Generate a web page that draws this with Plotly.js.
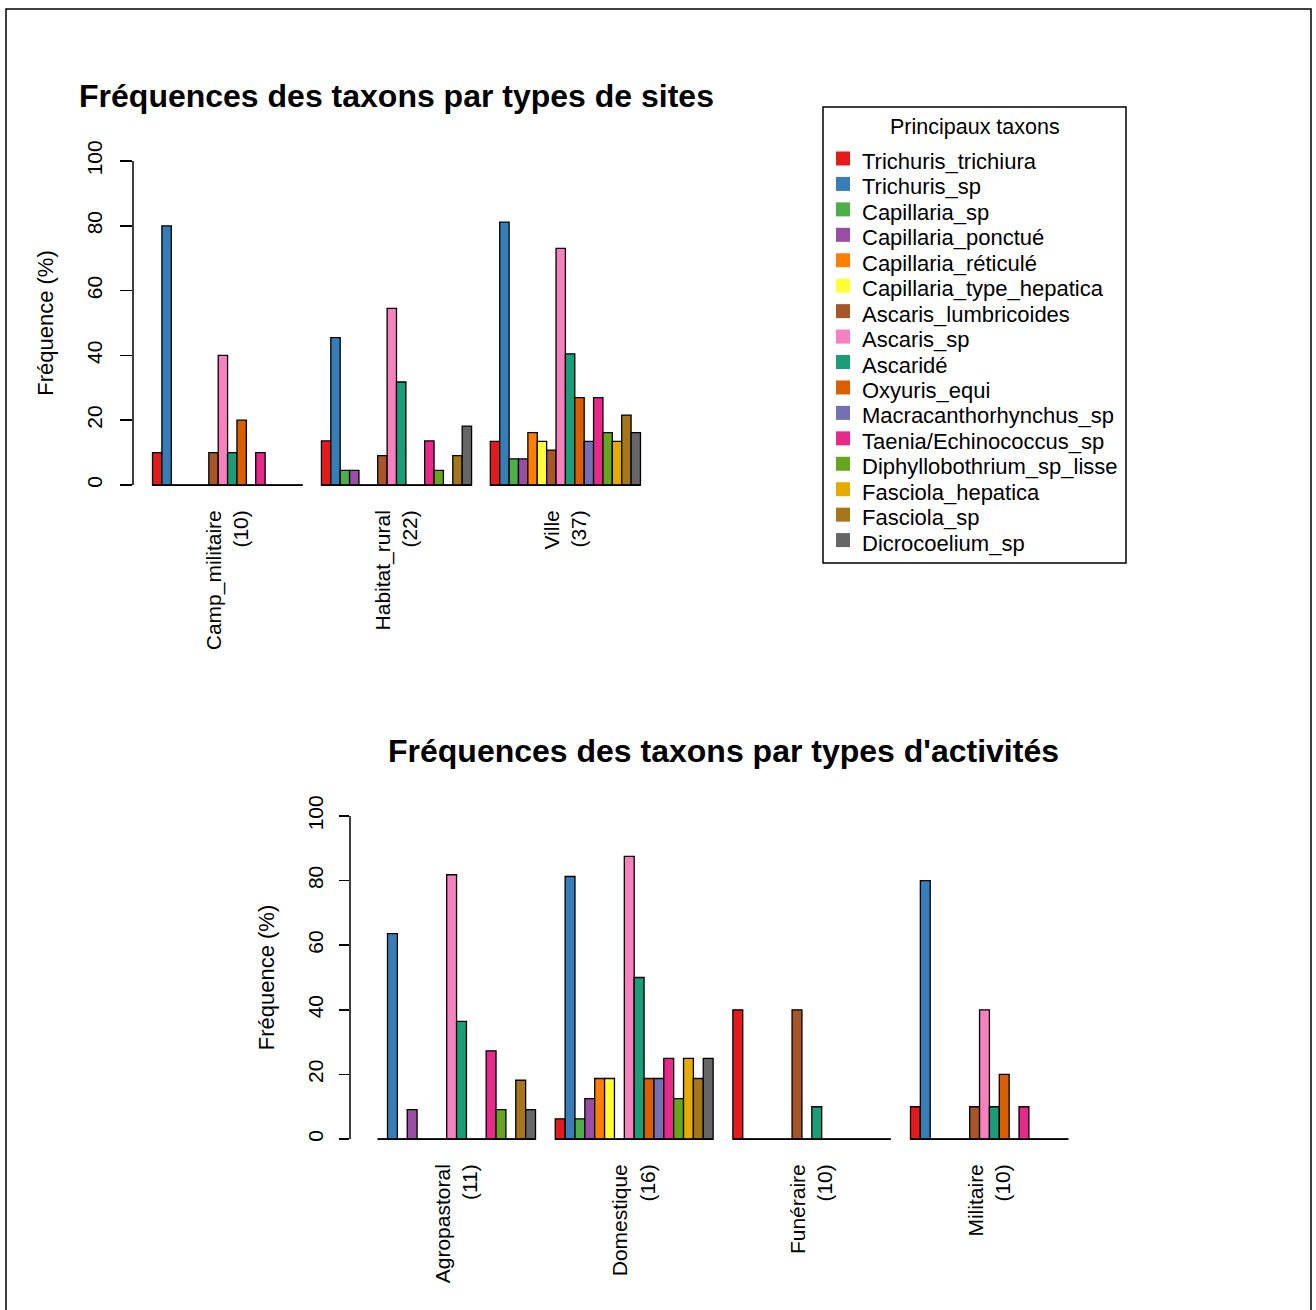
<!DOCTYPE html>
<html>
<head>
<meta charset="utf-8">
<script src="https://cdn.plot.ly/plotly-3.0.1.min.js"></script>
<style>
html, body { margin: 0; padding: 0; background: #ffffff; }
#chart { width: 1316px; height: 1310px; }
</style>
</head>
<body>
<div id="chart"></div>
<script>
// ---------- DATA ----------
const taxa = [
  'Trichuris_trichiura', 'Trichuris_sp', 'Capillaria_sp', 'Capillaria_ponctué',
  'Capillaria_réticulé', 'Capillaria_type_hepatica', 'Ascaris_lumbricoides', 'Ascaris_sp',
  'Ascaridé', 'Oxyuris_equi', 'Macracanthorhynchus_sp', 'Taenia/Echinococcus_sp',
  'Diphyllobothrium_sp_lisse', 'Fasciola_hepatica', 'Fasciola_sp', 'Dicrocoelium_sp'
];
const taxaColors = [
  '#E41A1C', '#377EB8', '#4DAF4A', '#984EA3', '#FF7F00', '#FFFF33', '#A65628', '#F781BF',
  '#1B9E77', '#D95F02', '#7570B3', '#E7298A', '#66A61E', '#E6AB02', '#A6761D', '#666666'
];

// Chart 1 : types de sites
const siteNames = ['Camp_militaire', 'Habitat_rural', 'Ville'];
const siteCounts = [10, 22, 37];
const campMilitaire = [10, 80, 0, 0, 0, 0, 10, 40, 10, 20, 0, 10, 0, 0, 0, 0];
const habitatRural  = [13.6, 45.5, 4.5, 4.5, 0, 0, 9.1, 54.5, 31.8, 0, 0, 13.6, 4.5, 0, 9.1, 18.2];
const ville         = [13.5, 81.1, 8.1, 8.1, 16.2, 13.5, 10.8, 73.0, 40.5, 27.0, 13.5, 27.0, 16.2, 13.5, 21.6, 16.2];

// Chart 2 : types d'activités
const activityNames = ['Agropastoral', 'Domestique', 'Funéraire', 'Militaire'];
const activityCounts = [11, 16, 10, 10];
const agropastoral = [0, 63.6, 0, 9.1, 0, 0, 0, 81.8, 36.4, 0, 0, 27.3, 9.1, 0, 18.2, 9.1];
const domestique   = [6.25, 81.25, 6.25, 12.5, 18.75, 18.75, 0, 87.5, 50, 18.75, 18.75, 25, 12.5, 25, 18.75, 25];
const funeraire    = [40, 0, 0, 0, 0, 0, 40, 0, 10, 0, 0, 0, 0, 0, 0, 0];
const militaire    = [10, 80, 0, 0, 0, 0, 10, 40, 10, 20, 0, 10, 0, 0, 0, 0];

const yTicks = [0, 20, 40, 60, 80, 100];
const title1 = 'Fréquences des taxons par types de sites';
const title2 = "Fréquences des taxons par types d'activités";
const yTitle = 'Fréquence (%)';
const legendTitle = 'Principaux taxons';

// ---------- BUILD ----------
const W = 1316, H = 1310;
const FONT = 'Liberation Sans, Arial, Helvetica, sans-serif';
const px = v => v / W;
const py = v => 1 - v / H;

const siteLabels = siteNames.map((n, i) => n + '<br>(' + siteCounts[i] + ')');
const actLabels = activityNames.map((n, i) => n + '<br>(' + activityCounts[i] + ')');
const siteSeries = [campMilitaire, habitatRural, ville];
const actSeries = [agropastoral, domestique, funeraire, militaire];

const nT = taxa.length;            // 16 bars per group
const space = 2;                   // gap between groups, in bar widths
const unit = nT + space;           // bar widths per category
const bargap = space / unit;

function xRange(nG) {
  // R barplot style: bars from 'space' to unit*nG, axis extended 4%
  const lo = space, hi = unit * nG, ext = 0.04 * (hi - lo);
  const c = space + nT / 2;
  return [(lo - ext - c) / unit, (hi + ext - c) / unit];
}

const traces = [];
taxa.forEach((t, i) => {
  traces.push({
    type: 'bar', name: t, x: siteLabels, y: siteSeries.map(s => s[i]),
    xaxis: 'x', yaxis: 'y', showlegend: false,
    marker: { color: taxaColors[i], line: { color: '#000', width: 1.3 } },
    hoverinfo: 'x+y+name'
  });
});
taxa.forEach((t, i) => {
  traces.push({
    type: 'bar', name: t, x: actLabels, y: actSeries.map(s => s[i]),
    xaxis: 'x2', yaxis: 'y2', showlegend: false,
    marker: { color: taxaColors[i], line: { color: '#000', width: 1.3 } },
    hoverinfo: 'x+y+name'
  });
});

const shapes = [];
const annotations = [];

// baselines of each group (R draws zero-height bars as a flat line)
function baselines(nG, xr, yr) {
  for (let g = 0; g < nG; g++) {
    shapes.push({ type: 'line', xref: xr, yref: yr, x0: g - nT / 2 / unit, x1: g + nT / 2 / unit,
      y0: 0, y1: 0, line: { color: '#000', width: 1.8 } });
  }
}
baselines(siteLabels.length, 'x', 'y');
baselines(actLabels.length, 'x2', 'y2');

// y axis lines from 0 to 100 only (R style)
shapes.push({ type: 'line', xref: 'x domain', yref: 'y', x0: 0, x1: 0,
  y0: yTicks[0], y1: yTicks[yTicks.length - 1], line: { color: '#000', width: 1.5 } });
shapes.push({ type: 'line', xref: 'x2 domain', yref: 'y2', x0: 0, x1: 0,
  y0: yTicks[0], y1: yTicks[yTicks.length - 1], line: { color: '#000', width: 1.5 } });

// outer frame
shapes.push({ type: 'rect', xref: 'paper', yref: 'paper', x0: px(6), x1: px(1311), y0: py(1330), y1: py(9),
  line: { color: '#000', width: 1.5 } });

// legend (R style box)
const lgL = 823, lgR = 1126, lgT = 107, lgB = 563;
shapes.push({ type: 'rect', xref: 'paper', yref: 'paper', x0: px(lgL), x1: px(lgR), y0: py(lgB), y1: py(lgT),
  line: { color: '#000', width: 1.5 }, fillcolor: 'rgba(0,0,0,0)' });
annotations.push({ xref: 'paper', yref: 'paper', x: px((lgL + lgR) / 2), y: py(127), text: legendTitle,
  showarrow: false, xanchor: 'center', yanchor: 'middle', font: { family: FONT, size: 21.5, color: '#000' } });
const rowH = 25.44, row0 = 161.5;
taxa.forEach((t, i) => {
  const cy = row0 + i * rowH;
  shapes.push({ type: 'rect', xref: 'paper', yref: 'paper', x0: px(836), x1: px(850),
    y0: py(cy + 4), y1: py(cy - 10), line: { width: 0 }, fillcolor: taxaColors[i] });
  annotations.push({ xref: 'paper', yref: 'paper', x: px(860), y: py(cy), text: t, showarrow: false,
    xanchor: 'left', yanchor: 'middle', font: { family: FONT, size: 22, color: '#000' } });
});

// second title
annotations.push({ xref: 'paper', yref: 'paper', x: px(723), y: py(751), text: '<b>' + title2 + '</b>',
  showarrow: false, xanchor: 'center', yanchor: 'middle', font: { family: FONT, size: 32, color: '#000' } });

const yCommon = {
  range: [-4, 104], tickvals: yTicks, ticktext: yTicks.map(String), tickangle: -90,
  ticks: 'outside', tickcolor: '#000', tickwidth: 1.5, showline: false, showgrid: false, zeroline: false,
  tickfont: { family: FONT, size: 21, color: '#000' }, fixedrange: true
};
const xCommon = {
  type: 'category', showline: false, showgrid: false, zeroline: false, ticks: '',
  tickangle: -90, tickfont: { family: FONT, size: 21, color: '#000' }, fixedrange: true,
  ticklabelstandoff: 7
};

const layout = {
  width: W, height: H, margin: { l: 0, r: 0, t: 0, b: 0 },
  paper_bgcolor: '#fff', plot_bgcolor: '#fff',
  font: { family: FONT, color: '#000' },
  showlegend: false,
  barmode: 'group', bargap: bargap, bargroupgap: 0,
  title: { text: '<b>' + title1 + '</b>', xref: 'paper', yref: 'paper', x: px(396.5), y: py(96),
    xanchor: 'center', yanchor: 'middle', font: { family: FONT, size: 32, color: '#000' } },
  xaxis: Object.assign({}, xCommon, { domain: [px(133), px(660)], anchor: 'y', range: xRange(siteLabels.length) }),
  yaxis: Object.assign({}, yCommon, { domain: [py(498), py(148)], anchor: 'x', ticklen: 12, ticklabelstandoff: 10,
    title: { text: yTitle, standoff: 22, font: { family: FONT, size: 22, color: '#000' } } }),
  xaxis2: Object.assign({}, xCommon, { domain: [px(350), px(1096)], anchor: 'y2', range: xRange(actLabels.length) }),
  yaxis2: Object.assign({}, yCommon, { domain: [py(1152), py(803)], anchor: 'x2', ticklen: 10, ticklabelstandoff: 8,
    title: { text: yTitle, standoff: 22, font: { family: FONT, size: 22, color: '#000' } } }),
  shapes: shapes,
  annotations: annotations
};

Plotly.newPlot('chart', traces, layout, { displayModeBar: false, staticPlot: true });
</script>
</body>
</html>
